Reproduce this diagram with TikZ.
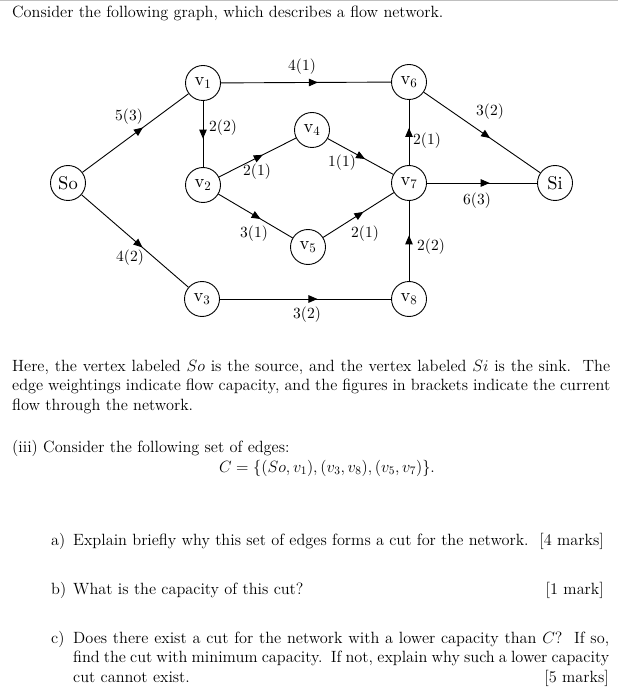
\RequirePackage{fix-cm}
\documentclass[tikz,border=0pt]{standalone}
\usepackage{fontspec}
\setmainfont{lmroman12-regular.otf}[ItalicFont=lmroman12-italic.otf,BoldFont=lmroman12-bold.otf]
\newfontfamily\gfont{lmroman10-regular.otf}
\usetikzlibrary{arrows.meta,decorations.markings}
\begin{document}
\begin{tikzpicture}[x=1pt,y=-1pt,
  txt/.style={inner sep=0pt, font=\fontsize{16.3}{19.5}\selectfont},
  vtx/.style={circle, draw, line width=0.9pt, minimum size=35pt, inner sep=0pt, font=\gfont\fontsize{18.5}{20}\selectfont},
  lbl/.style={inner sep=0pt, font=\gfont\fontsize{15.5}{18}\selectfont},
  flow/.style={draw, line width=0.9pt, postaction={decorate},
    decoration={markings, mark=at position 0.57 with {\arrow{Triangle[length=9pt,width=7.5pt]}}}}]
\useasboundingbox (0,0) rectangle (626,700);
\draw[gray!50, line width=0.8pt] (0,0.6) -- (618,0.6);

% text
\node[txt, anchor=base west] (t1) at (12,18) {Consider the following graph, which describes a flow network.};

% graph nodes
\node[vtx] (So) at (68,183) {So};
\node[vtx] (v1) at (203,83) {v\textsubscript{1}};
\node[vtx] (v2) at (203,185) {v\textsubscript{2}};
\node[vtx] (v3) at (202,299) {v\textsubscript{3}};
\node[vtx] (v4) at (312,130) {v\textsubscript{4}};
\node[vtx] (v5) at (308,247) {v\textsubscript{5}};
\node[vtx] (v6) at (409,82) {v\textsubscript{6}};
\node[vtx] (v7) at (409,183) {v\textsubscript{7}};
\node[vtx] (v8) at (409,299) {v\textsubscript{8}};
\node[vtx] (Si) at (555,183) {Si};

% edges
\path[flow] (So) -- (v1);
\path[flow] (So) -- (v3);
\path[flow] (v1) -- (v6);
\path[flow] (v1) -- (v2);
\path[flow] (v2) -- (v4);
\path[flow] (v2) -- (v5);
\path[flow] (v4) -- (v7);
\path[flow] (v5) -- (v7);
\path[flow] (v7) -- (v6);
\path[flow] (v8) -- (v7);
\path[flow] (v3) -- (v8);
\path[flow] (v6) -- (Si);
\path[flow] (v7) -- (Si);

% edge labels
\node[lbl] (l1) at (302,67) {4(1)};
\node[lbl] (l2) at (129,117) {5(3)};
\node[lbl] (l3) at (223,128) {2(2)};
\node[lbl] (l4) at (257,172) {2(1)};
\node[lbl] (l5) at (342,163) {1(1)};
\node[lbl] (l6) at (427,141) {2(1)};
\node[lbl] (l7) at (490,112) {3(2)};
\node[lbl] (l8) at (477,201) {6(3)};
\node[lbl] (l9) at (254,234) {3(1)};
\node[lbl] (l10) at (365,234) {2(1)};
\node[lbl] (l11) at (431,247) {2(2)};
\node[lbl] (l12) at (130,258) {4(2)};
\node[lbl] (l13) at (307,315) {3(2)};

% paragraph
\node[txt, anchor=base west] (p1) at (12,371) {\makebox[598pt][s]{Here, the vertex labeled $So$ is the source, and the vertex labeled $Si$ is the sink.\ \ The}};
\node[txt, anchor=base west] (p2) at (12,390.5) {\makebox[598pt][s]{edge weightings indicate flow capacity, and the figures in brackets indicate the current}};
\node[txt, anchor=base west] (p3) at (12,410) {flow through the network.};

\node[txt, anchor=base west] (q1) at (12,452) {(iii)\ Consider the following set of edges:};
\node[txt, anchor=base] (cf) at (327,472) {$C=\{(So,v_1),(v_3,v_8),(v_5,v_7)\}.$};

\node[txt, anchor=base west] (a0) at (51,545) {a)};
\node[txt, anchor=base west] (a1) at (73,545) {Explain briefly why this set of edges forms a cut for the network.};
\node[txt, anchor=base east] (a2) at (604,545) {[4 marks]};

\node[txt, anchor=base west] (b0) at (51,594) {b)};
\node[txt, anchor=base west] (b1) at (73,594) {What is the capacity of this cut?};
\node[txt, anchor=base east] (b2) at (604,594) {[1 mark]};

\node[txt, anchor=base west] (c0) at (51,643) {c)};
\node[txt, anchor=base west] (c1) at (73,643) {\makebox[536pt][s]{Does there exist a cut for the network with a lower capacity than $C$?\ \ If so,}};
\node[txt, anchor=base west] (c2) at (73,662.5) {\makebox[536pt][s]{find the cut with minimum capacity.\ \ If not, explain why such a lower capacity}};
\node[txt, anchor=base west] (c3) at (73,682) {cut cannot exist.};
\node[txt, anchor=base east] (c4) at (609,682) {[5 marks]};
\end{tikzpicture}
\end{document}
